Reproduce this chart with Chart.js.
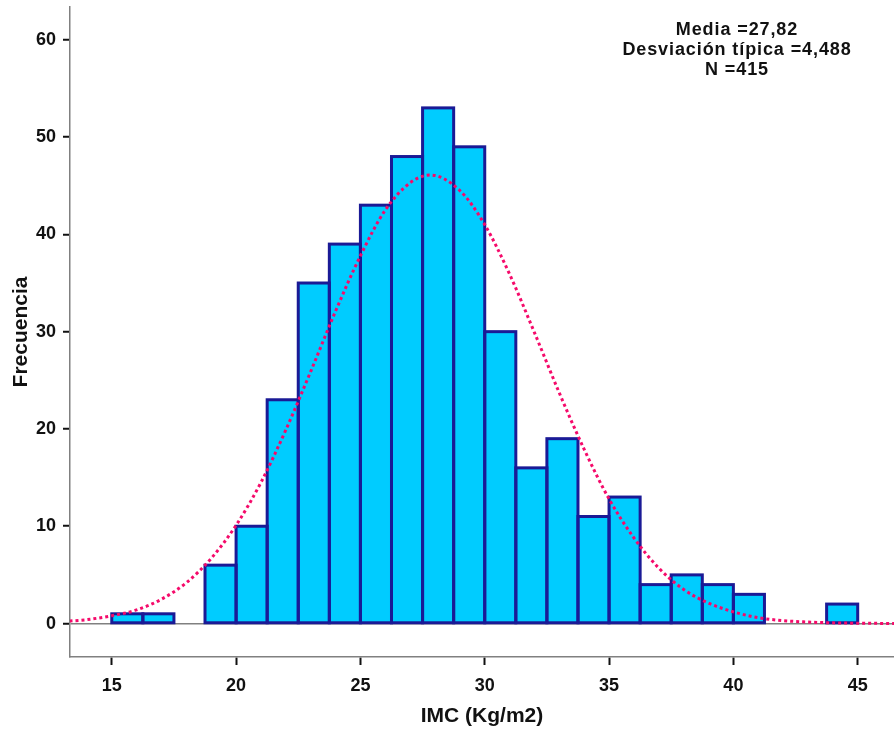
<!DOCTYPE html>
<html>
<head>
<meta charset="utf-8">
<script src="https://cdn.jsdelivr.net/npm/chart.js@4/dist/chart.umd.min.js"></script>
<style>
  html, body { margin: 0; padding: 0; background: #fff; }
  canvas { display: block; }
</style>
</head>
<body>
<canvas id="graph" width="894" height="733"></canvas>
<script>
// histogram bins (width 1.25), centres and counts
const binCenters = [15.625, 16.875, 18.125, 19.375, 20.625, 21.875, 23.125, 24.375,
  25.625, 26.875, 28.125, 29.375, 30.625, 31.875, 33.125, 34.375, 35.625, 36.875,
  38.125, 39.375, 40.625, 41.875, 43.125, 44.375];
const counts = [1, 1, 0, 6, 10, 23, 35, 39, 43, 48, 53, 49, 30, 16, 19, 11, 13, 4, 5, 4, 3, 0, 0, 2];

// dotted normal curve
const curveX = [13.3, 14, 15, 16, 17, 18, 19, 20, 21, 22, 23, 24, 25, 26, 27, 27.8, 29, 30,
  31, 32, 33, 34, 35, 36, 37, 38, 39, 40, 41, 42, 43, 44, 45, 46.5];
const curveY = [0.25, 0.4, 0.8, 1.4, 2.5, 4.2, 6.7, 10.1, 14.5, 19.9, 25.9, 32.1, 37.8, 42.5,
  45.3, 46.1, 44.5, 41.0, 35.9, 29.9, 23.7, 17.9, 12.8, 8.8, 5.7, 3.5, 2.1, 1.2, 0.6, 0.3,
  0.15, 0.07, 0.03, 0.01];

const xTicks = [15, 20, 25, 30, 35, 40, 45];
const yTicks = [0, 10, 20, 30, 40, 50, 60];

const statsLines = ["Media =27,82", "Desviación típica =4,488", "N =415"];

const FONT = "'Liberation Sans', Arial, sans-serif";
const AXIS_GREY = "#808080";
const BAR_EDGE = "#1a1a96";

// SPSS style outlines: stroke centred on each bar's edges
const barOutline = {
  id: "barOutline",
  afterDatasetDraw(chart, args) {
    if (args.meta.type !== "bar") return;
    const ctx = chart.ctx;
    const area = chart.chartArea;
    ctx.save();
    ctx.beginPath();
    ctx.rect(area.left, area.top, area.right - area.left, area.bottom - area.top);
    ctx.clip();
    ctx.strokeStyle = BAR_EDGE;
    ctx.lineWidth = 3;
    ctx.lineJoin = "miter";
    args.meta.data.forEach((bar, i) => {
      if (!counts[i]) return;
      const p = bar.getProps(["x", "y", "base", "width"], true);
      ctx.strokeRect(p.x - p.width / 2, p.y, p.width, p.base - p.y);
    });
    ctx.restore();
  }
};

// stats box in the top right corner
const statsText = {
  id: "statsText",
  afterDatasetsDraw(chart) {
    const ctx = chart.ctx;
    ctx.save();
    ctx.fillStyle = "#111";
    ctx.font = "bold 18px " + FONT;
    ctx.letterSpacing = "0.9px";
    ctx.textAlign = "center";
    ctx.textBaseline = "middle";
    statsLines.forEach((line, i) => ctx.fillText(line, 737, 30 + i * 20));
    ctx.restore();
  }
};

const data = {
  datasets: [
    {
      type: "line",
      data: curveX.map((x, i) => ({ x, y: curveY[i] })),
      borderColor: "#f50a6a",
      borderWidth: 3,
      borderDash: [3, 3],
      pointRadius: 0,
      cubicInterpolationMode: "monotone",
      order: 0
    },
    {
      type: "bar",
      data: binCenters.map((x, i) => ({ x, y: counts[i] })),
      backgroundColor: "#00ccff",
      borderWidth: 0,
      inflateAmount: 0,
      barPercentage: 1,
      categoryPercentage: 1,
      order: 1
    }
  ]
};

const options = {
  responsive: false,
  animation: false,
  devicePixelRatio: 1,
  layout: { padding: { top: 7, right: 0, left: 0, bottom: 0 } },
  plugins: {
    legend: { display: false },
    tooltip: { enabled: false }
  },
  scales: {
    x: {
      type: "linear",
      min: 13.32,
      max: 46.46,
      offset: false,
      afterBuildTicks: (s) => { s.ticks = xTicks.map((v) => ({ value: v })); },
      afterFit: (s) => { s.height = 76; s.paddingLeft = 0; s.paddingRight = 0; },
      grid: {
        offset: false,
        drawOnChartArea: false,
        tickLength: 8,
        tickWidth: 2,
        tickColor: "#111"
      },
      border: { color: AXIS_GREY, width: 1.5 },
      ticks: {
        padding: 10,
        color: "#111",
        font: { family: FONT, size: 18, weight: "bold" }
      },
      title: {
        display: true,
        text: "IMC (Kg/m2)",
        color: "#111",
        padding: { top: 0, bottom: 4 },
        font: { family: FONT, size: 21, weight: "bold" }
      }
    },
    y: {
      min: -3.44,
      max: 63.37,
      afterBuildTicks: (s) => { s.ticks = yTicks.map((v) => ({ value: v })); },
      afterFit: (s) => { s.width = 70; s.paddingTop = 0; s.paddingBottom = 0; },
      grid: {
        color: (c) => (c.tick && c.tick.value === 0 ? AXIS_GREY : "rgba(0,0,0,0)"),
        lineWidth: 1.5,
        tickLength: 7,
        tickWidth: 2,
        tickColor: "#111"
      },
      border: { color: AXIS_GREY, width: 1.5 },
      ticks: {
        padding: 7,
        color: "#111",
        font: { family: FONT, size: 18, weight: "bold" }
      },
      title: {
        display: true,
        text: "Frecuencia",
        color: "#111",
        padding: { top: 9, bottom: 0 },
        font: { family: FONT, size: 21, weight: "bold" }
      }
    }
  }
};

new Chart(document.getElementById("graph"), {
  type: "bar",
  data: data,
  options: options,
  plugins: [barOutline, statsText]
});
</script>
</body>
</html>
